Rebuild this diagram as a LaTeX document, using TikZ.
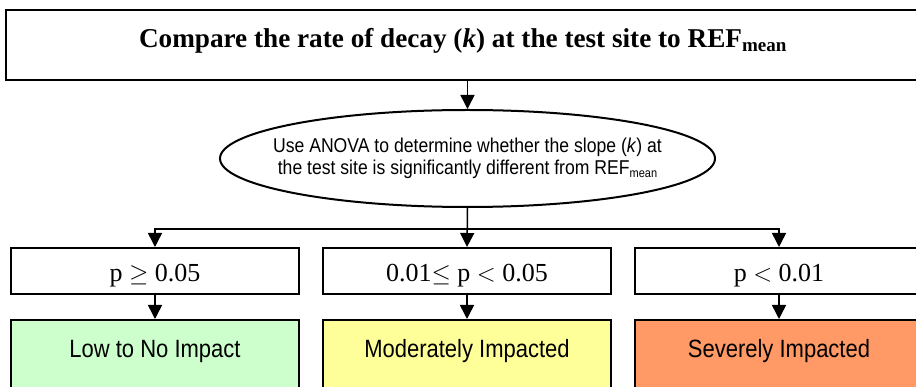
\documentclass[tikz,border=0pt]{standalone}
\usepackage{fontspec}
\setmainfont{Liberation Serif}
\newfontfamily\arialfont[FakeStretch=0.88]{Liberation Sans}
\usetikzlibrary{arrows.meta,shapes.geometric,calc}
\definecolor{lowgreen}{RGB}{204,255,204}
\definecolor{modyellow}{RGB}{255,255,153}
\definecolor{sevorange}{RGB}{255,153,102}

\begin{document}
\begin{tikzpicture}[x=1pt,y=-1pt,
	box/.style={draw,line width=2pt,inner sep=0pt},
	condbox/.style={box,minimum width=288pt,minimum height=46pt,
		text height=22pt,text depth=0pt,font=\fontsize{26}{30}\selectfont},
	resultbox/.style={box,anchor=north,minimum width=288pt,inner ysep=20pt,
		text height=18pt,text depth=60pt,font=\arialfont\fontsize{25}{28}\selectfont},
	arr/.style={line width=1.5pt,-{Triangle[width=14pt,length=14pt]}}]
	\useasboundingbox (0,0) rectangle (916,387);
	\clip (0,0) rectangle (916,387);
	
	% top box
	\node[box,minimum width=914pt,minimum height=70pt,text height=14pt,text depth=8pt,
	font=\bfseries\fontsize{27.2}{30}\selectfont] (compare) at (463,45)
	{Compare the rate of decay (\textit{k}) at the test site to REF\textsubscript{mean}};
	
	% test
	\node[ellipse,draw,line width=2pt,inner xsep=-20pt,inner ysep=0pt,minimum width=495pt,minimum height=97pt,
	align=center,font=\arialfont\fontsize{20}{22}\selectfont] (anova) at (467.5,158.5)
	{Use ANOVA to determine whether the slope (\textit{k}) at\\
		the test site is significantly different from REF{\fontsize{12.5}{12}\selectfont\raisebox{-3pt}{mean}}};
	
	% outcomes
	\node[condbox] (p1) at (155,271) {p $\geq$ 0.05};
	\node[condbox] (p2) at (467,271) {0.01$\leq$ p $<$ 0.05};
	\node[condbox] (p3) at (779,271) {p $<$ 0.01};
	
	\node[resultbox,fill=lowgreen] (r1) at (155,319) {Low to No Impact};
	\node[resultbox,fill=modyellow] (r2) at (467,319) {Moderately Impacted};
	\node[resultbox,fill=sevorange] (r3) at (779,319) {Severely Impacted};
	
	% connectors
	\coordinate (fork) at ($(anova.south)+(0,21)$);
	\draw[arr] (compare.south -| anova.north) -- (anova.north);
	\draw[arr] (anova.south) -- (p2.north);
	\draw[arr] (fork) -| (p1.north);
	\draw[arr] (fork) -| (p3.north);
	\foreach \i in {1,2,3}
	\draw[arr] (p\i.south) -- (r\i.north);
\end{tikzpicture}
\end{document}
